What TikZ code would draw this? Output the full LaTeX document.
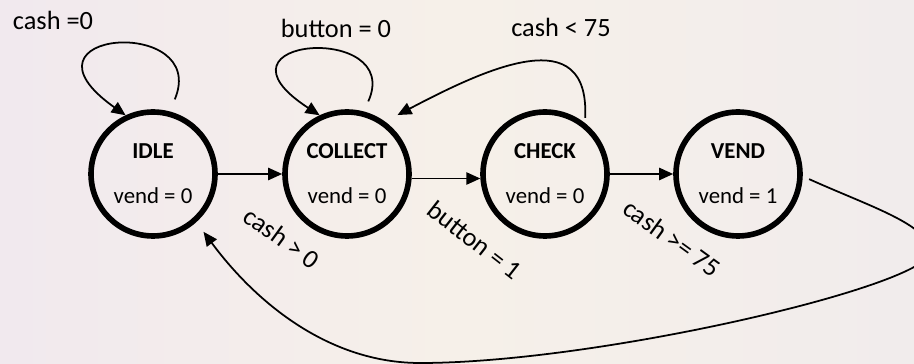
\documentclass[tikz,border=0pt]{standalone}
\usepackage{fontspec}
\setmainfont{Carlito}
\usetikzlibrary{arrows.meta}

\definecolor{bgleft}{RGB}{241,233,238}
\definecolor{bgmid}{RGB}{246,240,233}
\definecolor{bgright}{RGB}{241,236,236}

\tikzset{
  state/.style={circle,draw,line width=3.2pt,minimum size=2.48cm,inner sep=0pt,align=center,font=\fontsize{13}{16}\selectfont},
  trans/.style={line width=1pt,-{Triangle[length=8pt,width=7pt]}},
  lbl/.style={font=\fontsize{15}{18}\selectfont,inner sep=0pt},
}

\begin{document}
\begin{tikzpicture}[x=0.02cm,y=-0.02cm]
  \shade[left color=bgleft,right color=bgright,middle color=bgmid] (0,0) rectangle (914,364);
  \useasboundingbox (0,0) rectangle (914,364);
  \clip (0,0) rectangle (914,364);
  \node[state] (idle) at (153,174) {\textbf{IDLE}\\[9.6pt]vend = 0};
  \node[state] (collect) at (347,174) {\textbf{COLLECT}\\[9.6pt]vend = 0};
  \node[state] (check) at (545,174) {\textbf{CHECK}\\[9.6pt]vend = 0};
  \node[state] (vend) at (738,174) {\textbf{VEND}\\[9.6pt]vend = 1};
  \draw[trans] (idle) -- (collect);
  \draw[trans] (collect.-4) -- (check.-176);
  \draw[trans] (check) -- (vend);
  \draw[trans,shorten <=0.26cm] (idle.75) .. controls (210,15) and (5,30) .. (idle.115);
  \draw[trans,shorten <=0.22cm] (collect.75) .. controls (404,22) and (199,37) .. (collect.115);
  \draw[trans,shorten <=0.1cm,shorten >=0.28cm] (check.52) .. controls (590,20) and (487,68) .. (collect.54);
  \draw[trans,shorten <=0.14cm,shorten >=0.24cm] (vend.-2) .. controls (871,207) and (930,225) .. (930,252)
    .. controls (930,285) and (600,363) .. (420,363) .. controls (330,363) and (257,304) .. (idle.-48);
  \node[lbl] (cashzero) at (53,20) {cash =0};
  \node[lbl] (buttonzero) at (336,28) {button = 0};
  \node[lbl] (cashless) at (561,27) {cash < 75};
  \node[lbl,rotate=-36] (cashpos) at (282,238) {cash > 0};
  \node[lbl,rotate=-38] (buttonone) at (475,240) {button = 1};
  \node[lbl,rotate=-36] (cashmore) at (672,238) {cash >= 75};
\end{tikzpicture}
\end{document}
